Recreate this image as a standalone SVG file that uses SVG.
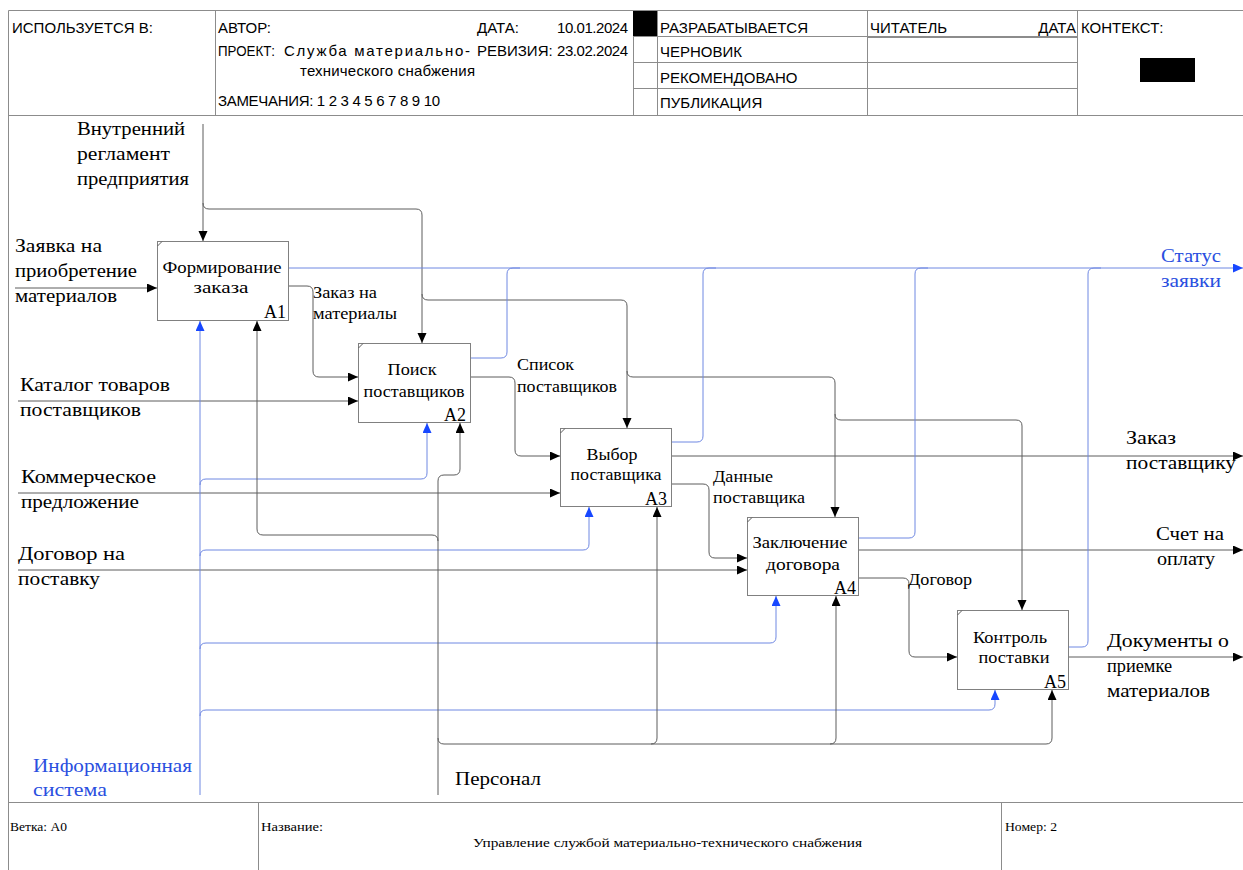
<svg xmlns="http://www.w3.org/2000/svg" width="1243" height="870" viewBox="0 0 1243 870">
  <style>
    .frame { stroke: #8c8c8c; stroke-width: 1; fill: none; }
    .hdr { font-family: "Liberation Sans", Arial, "DejaVu Sans", sans-serif; font-size: 15px; fill: #000; }
    .ftr { font-family: "Liberation Serif", "DejaVu Serif", serif; font-size: 12px; fill: #000; }
    .box { fill: #fff; stroke: #808080; stroke-width: 1; }
    .btxt { font-family: "Liberation Serif", "DejaVu Serif", serif; font-size: 16px; fill: #000; text-anchor: middle; }
    .bid { font-family: "Liberation Serif", "DejaVu Serif", serif; font-size: 18px; fill: #000; text-anchor: end; }
    .arc { fill: none; stroke: #5c5c5c; stroke-width: 1; }
    .arc-b { fill: none; stroke: #6f88e2; stroke-width: 1; }
    .to { marker-end: url(#ah); }
    .to-b { marker-end: url(#ahb); }
    .lbl { font-family: "Liberation Serif", "DejaVu Serif", serif; font-size: 19px; fill: #000; }
    .lbl-s { font-family: "Liberation Serif", "DejaVu Serif", serif; font-size: 16px; fill: #000; }
    .blue { fill: #2a4fe0; }
  </style>
  <defs>
    <marker id="ah" markerUnits="userSpaceOnUse" markerWidth="11" markerHeight="10" refX="10" refY="4.5" orient="auto">
      <path d="M0,0 L10,4.5 L0,9 z" fill="#000"/>
    </marker>
    <marker id="ahb" markerUnits="userSpaceOnUse" markerWidth="11" markerHeight="10" refX="10" refY="4.5" orient="auto">
      <path d="M0,0 L10,4.5 L0,9 z" fill="#1747ff"/>
    </marker>
  </defs>

  <rect width="1243" height="870" fill="#fff"/>

  <!-- title block (header) -->
  <g id="header">
    <path class="frame" d="M8.5,10.5 H1243 M8.5,10.5 V870 M8,115.5 H1243 M215.5,10 V115 M633.5,10 V115 M657.5,10 V115 M867.5,10 V115 M1077.5,10 V115 M633,36.5 H1077 M867,37.5 H1077 M633,62.5 H1077 M633,88.5 H1077"/>
    <rect x="633" y="11" width="24" height="25" fill="#000"/>
    <rect x="1140" y="58" width="55" height="24" fill="#000"/>
    <text class="hdr" x="12" y="33">ИСПОЛЬЗУЕТСЯ В:</text>
    <text class="hdr" x="218" y="33">АВТОР:</text>
    <text class="hdr" x="218" y="56" textLength="57" lengthAdjust="spacingAndGlyphs">ПРОЕКТ:</text>
    <text class="hdr" x="284" y="56" textLength="186" lengthAdjust="spacing">Служба материально-</text>
    <text class="hdr" x="300" y="76" textLength="175" lengthAdjust="spacing">технического снабжения</text>
    <text class="hdr" x="218" y="106" textLength="222" lengthAdjust="spacing">ЗАМЕЧАНИЯ: 1 2 3 4 5 6 7 8 9 10</text>
    <text class="hdr" x="477" y="33">ДАТА:</text>
    <text class="hdr" x="628" y="33" text-anchor="end" textLength="71">10.01.2024</text>
    <text class="hdr" x="477" y="56">РЕВИЗИЯ:</text>
    <text class="hdr" x="628" y="56" text-anchor="end" textLength="71">23.02.2024</text>
    <text class="hdr" x="660" y="33">РАЗРАБАТЫВАЕТСЯ</text>
    <text class="hdr" x="660" y="57">ЧЕРНОВИК</text>
    <text class="hdr" x="660" y="83">РЕКОМЕНДОВАНО</text>
    <text class="hdr" x="660" y="108">ПУБЛИКАЦИЯ</text>
    <text class="hdr" x="870" y="33">ЧИТАТЕЛЬ</text>
    <text class="hdr" x="1076" y="33" text-anchor="end">ДАТА</text>
    <text class="hdr" x="1081" y="33">КОНТЕКСТ:</text>
  </g>

  <!-- footer -->
  <g id="footer">
    <path class="frame" d="M8,802.5 H1243 M258.5,802 V870 M1001.5,802 V870"/>
    <text class="ftr" x="10" y="831" textLength="57" lengthAdjust="spacingAndGlyphs">Ветка: A0</text>
    <text class="ftr" x="261" y="831" textLength="62" lengthAdjust="spacingAndGlyphs">Название:</text>
    <text class="ftr" x="473" y="847" textLength="389" lengthAdjust="spacingAndGlyphs">Управление службой материально-технического снабжения</text>
    <text class="ftr" x="1005" y="831" textLength="52" lengthAdjust="spacingAndGlyphs">Номер: 2</text>
  </g>

  <!-- arrows -->
  <g id="connectors">
    <!-- inputs -->
    <path class="arc to" d="M15,288 H157"/>
    <path class="arc to" d="M18,401 H358"/>
    <path class="arc to" d="M18,493 H560"/>
    <path class="arc to" d="M18,570 H747"/>
    <!-- controls: internal regulations -->
    <path class="arc to" d="M203,124 V241"/>
    <path class="arc to" d="M203,203 q0,6 6,6 H416 q6,0 6,6 V343"/>
    <path class="arc to" d="M422,294 q0,6 6,6 H621 q6,0 6,6 V428"/>
    <path class="arc to" d="M627,371 q0,6 6,6 H829 q6,0 6,6 V517"/>
    <path class="arc to" d="M835,414 q0,6 6,6 H1016 q6,0 6,6 V610"/>
    <!-- activity-to-activity flows -->
    <path class="arc to" d="M289,286 H307 q6,0 6,6 V371 q0,6 6,6 H358"/>
    <path class="arc to" d="M471,377 H509 q6,0 6,6 V450 q0,6 6,6 H560"/>
    <path class="arc to" d="M672,484 H703 q6,0 6,6 V552 q0,6 6,6 H747"/>
    <path class="arc to" d="M859,578 H903 q6,0 6,6 V651 q0,6 6,6 H957"/>
    <!-- outputs -->
    <path class="arc to" d="M672,456 H1243"/>
    <path class="arc to" d="M859,550 H1243"/>
    <path class="arc to" d="M1069,657 H1243"/>
    <!-- request status (blue) -->
    <path class="arc-b to-b" d="M289,268 H1243"/>
    <path class="arc-b" d="M471,358 H501 q6,0 6,-6 V274 q0,-6 6,-6 H520"/>
    <path class="arc-b" d="M672,442 H697 q6,0 6,-6 V274 q0,-6 6,-6 H716"/>
    <path class="arc-b" d="M859,538 H909 q6,0 6,-6 V274 q0,-6 6,-6 H928"/>
    <path class="arc-b" d="M1069,647 H1082 q6,0 6,-6 V274 q0,-6 6,-6 H1101"/>
    <!-- mechanism: information system (blue) -->
    <path class="arc-b to-b" d="M200,795 V321"/>
    <path class="arc-b to-b" d="M200,485 q0,-6 6,-6 H421 q6,0 6,-6 V423"/>
    <path class="arc-b to-b" d="M200,556 q0,-6 6,-6 H583 q6,0 6,-6 V507"/>
    <path class="arc-b to-b" d="M200,649 q0,-6 6,-6 H770 q6,0 6,-6 V596"/>
    <path class="arc-b to-b" d="M200,716 q0,-6 6,-6 H989 q6,0 6,-6 V690"/>
    <!-- mechanism: personnel -->
    <path class="arc to" d="M438,795 V481 q0,-6 6,-6 H454 q6,0 6,-6 V423"/>
    <path class="arc to" d="M438,541 q0,-6 -6,-6 H263 q-6,0 -6,-6 V321"/>
    <path class="arc to" d="M438,738 q0,6 6,6 H1046 q6,0 6,-6 V690"/>
    <path class="arc to" d="M651,744 q6,0 6,-6 V507"/>
    <path class="arc to" d="M830,744 q6,0 6,-6 V596"/>

    <!-- arrow labels -->
    <text class="lbl" x="77" y="135" textLength="108" lengthAdjust="spacingAndGlyphs">Внутренний</text>
    <text class="lbl" x="77" y="160" textLength="93" lengthAdjust="spacingAndGlyphs">регламент</text>
    <text class="lbl" x="77" y="185" textLength="112" lengthAdjust="spacingAndGlyphs">предприятия</text>
    <text class="lbl" x="15" y="252" textLength="87" lengthAdjust="spacingAndGlyphs">Заявка на</text>
    <text class="lbl" x="15" y="277" textLength="122" lengthAdjust="spacingAndGlyphs">приобретение</text>
    <text class="lbl" x="15" y="302" textLength="102" lengthAdjust="spacingAndGlyphs">материалов</text>
    <text class="lbl" x="20" y="391" textLength="150" lengthAdjust="spacingAndGlyphs">Каталог товаров</text>
    <text class="lbl" x="20" y="416" textLength="121" lengthAdjust="spacingAndGlyphs">поставщиков</text>
    <text class="lbl" x="21" y="483" textLength="135" lengthAdjust="spacingAndGlyphs">Коммерческое</text>
    <text class="lbl" x="21" y="508" textLength="118" lengthAdjust="spacingAndGlyphs">предложение</text>
    <text class="lbl" x="18" y="560" textLength="107" lengthAdjust="spacingAndGlyphs">Договор на</text>
    <text class="lbl" x="18" y="585" textLength="82" lengthAdjust="spacingAndGlyphs">поставку</text>
    <text class="lbl blue" x="33" y="772" textLength="159" lengthAdjust="spacingAndGlyphs">Информационная</text>
    <text class="lbl blue" x="33" y="796" textLength="74" lengthAdjust="spacingAndGlyphs">система</text>
    <text class="lbl" x="455" y="785" textLength="86" lengthAdjust="spacingAndGlyphs">Персонал</text>
    <text class="lbl blue" x="1161" y="262" textLength="60" lengthAdjust="spacingAndGlyphs">Статус</text>
    <text class="lbl blue" x="1161" y="287" textLength="60" lengthAdjust="spacingAndGlyphs">заявки</text>
    <text class="lbl" x="1126" y="444" textLength="50" lengthAdjust="spacingAndGlyphs">Заказ</text>
    <text class="lbl" x="1126" y="469" textLength="110" lengthAdjust="spacingAndGlyphs">поставщику</text>
    <text class="lbl" x="1156" y="540" textLength="68" lengthAdjust="spacingAndGlyphs">Счет на</text>
    <text class="lbl" x="1157" y="565" textLength="58" lengthAdjust="spacingAndGlyphs">оплату</text>
    <text class="lbl" x="1107" y="647" textLength="122" lengthAdjust="spacingAndGlyphs">Документы о</text>
    <text class="lbl" x="1107" y="672" textLength="65" lengthAdjust="spacingAndGlyphs">приемке</text>
    <text class="lbl" x="1107" y="697" textLength="103" lengthAdjust="spacingAndGlyphs">материалов</text>
    <text class="lbl-s" x="313" y="298" textLength="64" lengthAdjust="spacingAndGlyphs">Заказ на</text>
    <text class="lbl-s" x="313" y="319" textLength="84" lengthAdjust="spacingAndGlyphs">материалы</text>
    <text class="lbl-s" x="517" y="370" textLength="57" lengthAdjust="spacingAndGlyphs">Список</text>
    <text class="lbl-s" x="517" y="392" textLength="100" lengthAdjust="spacingAndGlyphs">поставщиков</text>
    <text class="lbl-s" x="713" y="482" textLength="60" lengthAdjust="spacingAndGlyphs">Данные</text>
    <text class="lbl-s" x="713" y="503" textLength="92" lengthAdjust="spacingAndGlyphs">поставщика</text>
    <text class="lbl-s" x="908" y="585" textLength="64" lengthAdjust="spacingAndGlyphs">Договор</text>
  </g>

  <!-- activities -->
  <g id="A1">
    <rect class="box" x="157.5" y="241.5" width="131" height="79"/>
    <path class="arc" d="M157.5,246 L162,241.5" stroke="#808080"/>
    <text class="btxt" x="222" y="273" textLength="119" lengthAdjust="spacingAndGlyphs">Формирование</text>
    <text class="btxt" x="221" y="293" textLength="55" lengthAdjust="spacingAndGlyphs">заказа</text>
    <text class="bid" x="286" y="318">A1</text>
  </g>
  <g id="A2">
    <rect class="box" x="358.5" y="343.5" width="112" height="79"/>
    <path class="arc" d="M358.5,348 L363,343.5"/>
    <text class="btxt" x="412" y="375" textLength="49" lengthAdjust="spacingAndGlyphs">Поиск</text>
    <text class="btxt" x="414" y="397" textLength="101" lengthAdjust="spacingAndGlyphs">поставщиков</text>
    <text class="bid" x="466" y="421">A2</text>
  </g>
  <g id="A3">
    <rect class="box" x="560.5" y="428.5" width="111" height="78"/>
    <path class="arc" d="M560.5,433 L565,428.5"/>
    <text class="btxt" x="612" y="460" textLength="51" lengthAdjust="spacingAndGlyphs">Выбор</text>
    <text class="btxt" x="616" y="480" textLength="91" lengthAdjust="spacingAndGlyphs">поставщика</text>
    <text class="bid" x="667" y="505">A3</text>
  </g>
  <g id="A4">
    <rect class="box" x="747.5" y="517.5" width="111" height="78"/>
    <path class="arc" d="M747.5,522 L752,517.5"/>
    <text class="btxt" x="800" y="548" textLength="95" lengthAdjust="spacingAndGlyphs">Заключение</text>
    <text class="btxt" x="803" y="570" textLength="74" lengthAdjust="spacingAndGlyphs">договора</text>
    <text class="bid" x="856" y="594">A4</text>
  </g>
  <g id="A5">
    <rect class="box" x="957.5" y="610.5" width="111" height="79"/>
    <path class="arc" d="M957.5,615 L962,610.5"/>
    <text class="btxt" x="1010" y="643" textLength="74" lengthAdjust="spacingAndGlyphs">Контроль</text>
    <text class="btxt" x="1014" y="663" textLength="71" lengthAdjust="spacingAndGlyphs">поставки</text>
    <text class="bid" x="1066" y="688">A5</text>
  </g>
</svg>
